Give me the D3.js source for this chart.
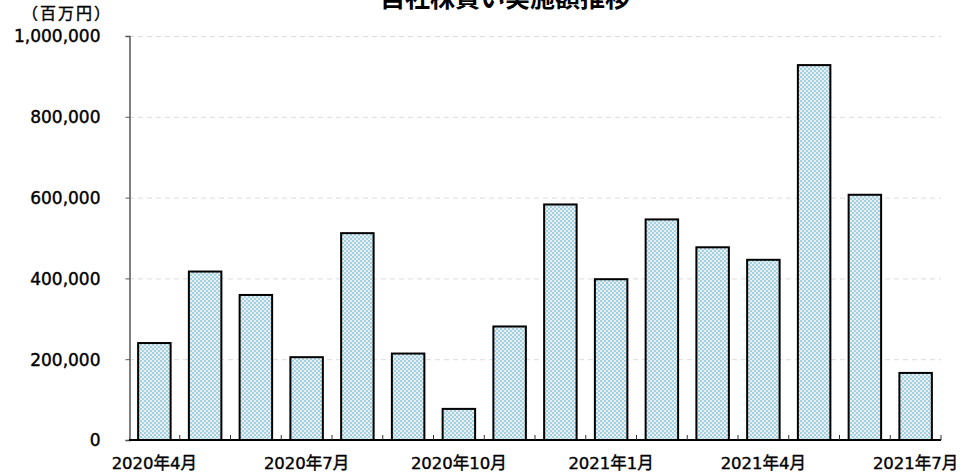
<!DOCTYPE html>
<html>
<head>
<meta charset="utf-8">
<script src="https://cdn.jsdelivr.net/npm/d3@7"></script>
<style>
  body { margin: 0; background: #fff; }
  text { font-family: "DejaVu Sans", "Noto Sans CJK JP", sans-serif; fill: #000; }
</style>
</head>
<body>
<div id="chart"></div>
<script>
var months = ["2020年4月", "2020年5月", "2020年6月", "2020年7月", "2020年8月", "2020年9月",
    "2020年10月", "2020年11月", "2020年12月", "2021年1月", "2021年2月", "2021年3月",
    "2021年4月", "2021年5月", "2021年6月", "2021年7月"];
var amounts = [240000, 417000, 359000, 205000, 512000, 214000, 77000, 281000,
    583000, 398000, 546000, 477000, 446000, 928000, 607000, 166000];
var yTicks = [0, 200000, 400000, 600000, 800000, 1000000];
var labelEvery = 3;

var width = 967,
    height = 473;
var plotLeft = 129, plotRight = 941, plotTop = 36, plotBottom = 440;

var svg = d3.select("#chart")
    .append("svg")
    .attr("width", width)
    .attr("height", height);

var defs = svg.append("defs");
var pat = defs.append("pattern")
    .attr("id", "hatch")
    .attr("patternUnits", "userSpaceOnUse")
    .attr("width", 4)
    .attr("height", 4);
pat.append("rect").attr("width", 4).attr("height", 4).attr("fill", "#ededed");
pat.append("rect").attr("x", 0).attr("y", 0).attr("width", 2).attr("height", 2).attr("fill", "#9dd3e4");
pat.append("rect").attr("x", 2).attr("y", 2).attr("width", 2).attr("height", 2).attr("fill", "#9dd3e4");

var x = d3.scaleBand().domain(months).range([plotLeft, plotRight]).paddingInner(0.36).paddingOuter(0.18);
var y = d3.scaleLinear().domain([0, 1000000]).range([plotBottom, plotTop]);

// grid
svg.append("g")
    .selectAll("line")
    .data(yTicks.slice(1))
    .enter().append("line")
    .attr("x1", plotLeft)
    .attr("x2", plotRight)
    .attr("y1", function(d) { return y(d) + 0.5 })
    .attr("y2", function(d) { return y(d) + 0.5 })
    .attr("stroke", "#dcdcdc")
    .attr("stroke-dasharray", "5,4")

// bars
svg.append("g")
    .selectAll("rect")
    .data(amounts)
    .enter().append("rect")
    .attr("x", function(d, i) { return x(months[i]) })
    .attr("y", function(d) { return y(d) })
    .attr("width", x.bandwidth())
    .attr("height", function(d) { return plotBottom - y(d) })
    .attr("fill", "url(#hatch)")
    .attr("stroke", "#000")
    .attr("stroke-width", 2)

// y axis
var yAxis = d3.axisLeft(y)
    .tickValues(yTicks)
    .tickSize(4)
    .tickPadding(25)
    .tickFormat(d3.format(","));
var gy = svg.append("g")
    .attr("transform", "translate(" + (plotLeft + 0.5) + ",0)")
    .call(yAxis);
gy.select(".domain").attr("stroke", "#555").attr("stroke-width", 1.5);
gy.selectAll(".tick line").attr("stroke", "#555");
gy.selectAll("text")
    .attr("font-size", 17)
    .attr("font-family", "'DejaVu Sans', sans-serif")
    .attr("fill", "#000")
    .attr("stroke", "#000")
    .attr("stroke-width", 0.4)
    .attr("dy", "0.35em")

// x axis baseline and ticks between bands
var step = x.step();
var bounds = d3.range(months.length + 1).map(function(i) { return plotLeft + i * step });
svg.append("line")
    .attr("x1", plotLeft).attr("x2", plotRight)
    .attr("y1", plotBottom).attr("y2", plotBottom)
    .attr("stroke", "#000").attr("stroke-width", 2)
svg.append("g")
    .selectAll("line")
    .data(bounds.slice(1))
    .enter().append("line")
    .attr("x1", function(d) { return d })
    .attr("x2", function(d) { return d })
    .attr("y1", plotBottom)
    .attr("y2", plotBottom - 5)
    .attr("stroke", "#333")

// x labels
svg.append("g")
    .selectAll("text")
    .data(months.filter(function(d, i) { return i % labelEvery === 0 }))
    .enter().append("text")
    .attr("x", function(d) { return x(d) + x.bandwidth() / 2 })
    .attr("y", 469)
    .attr("text-anchor", "middle")
    .attr("font-size", 16.5)
    .attr("stroke", "#000")
    .attr("stroke-width", 0.4)
    .text(function(d) { return d })

// unit
svg.append("text")
    .attr("x", 66)
    .attr("y", 19)
    .attr("text-anchor", "middle")
    .attr("font-size", 16)
    .attr("font-family", "'Noto Sans CJK JP', sans-serif")
    .attr("stroke", "#000")
    .attr("stroke-width", 0.4)
    .attr("textLength", 88)
    .text("（百万円）")

// title (partly cut off at the top)
svg.append("text")
    .attr("x", 505)
    .attr("y", 7)
    .attr("text-anchor", "middle")
    .attr("font-size", 25)
    .attr("font-weight", "bold")
    .attr("font-family", "'Noto Sans CJK JP', sans-serif")
    .text("自社株買い実施額推移")
</script>
</body>
</html>
